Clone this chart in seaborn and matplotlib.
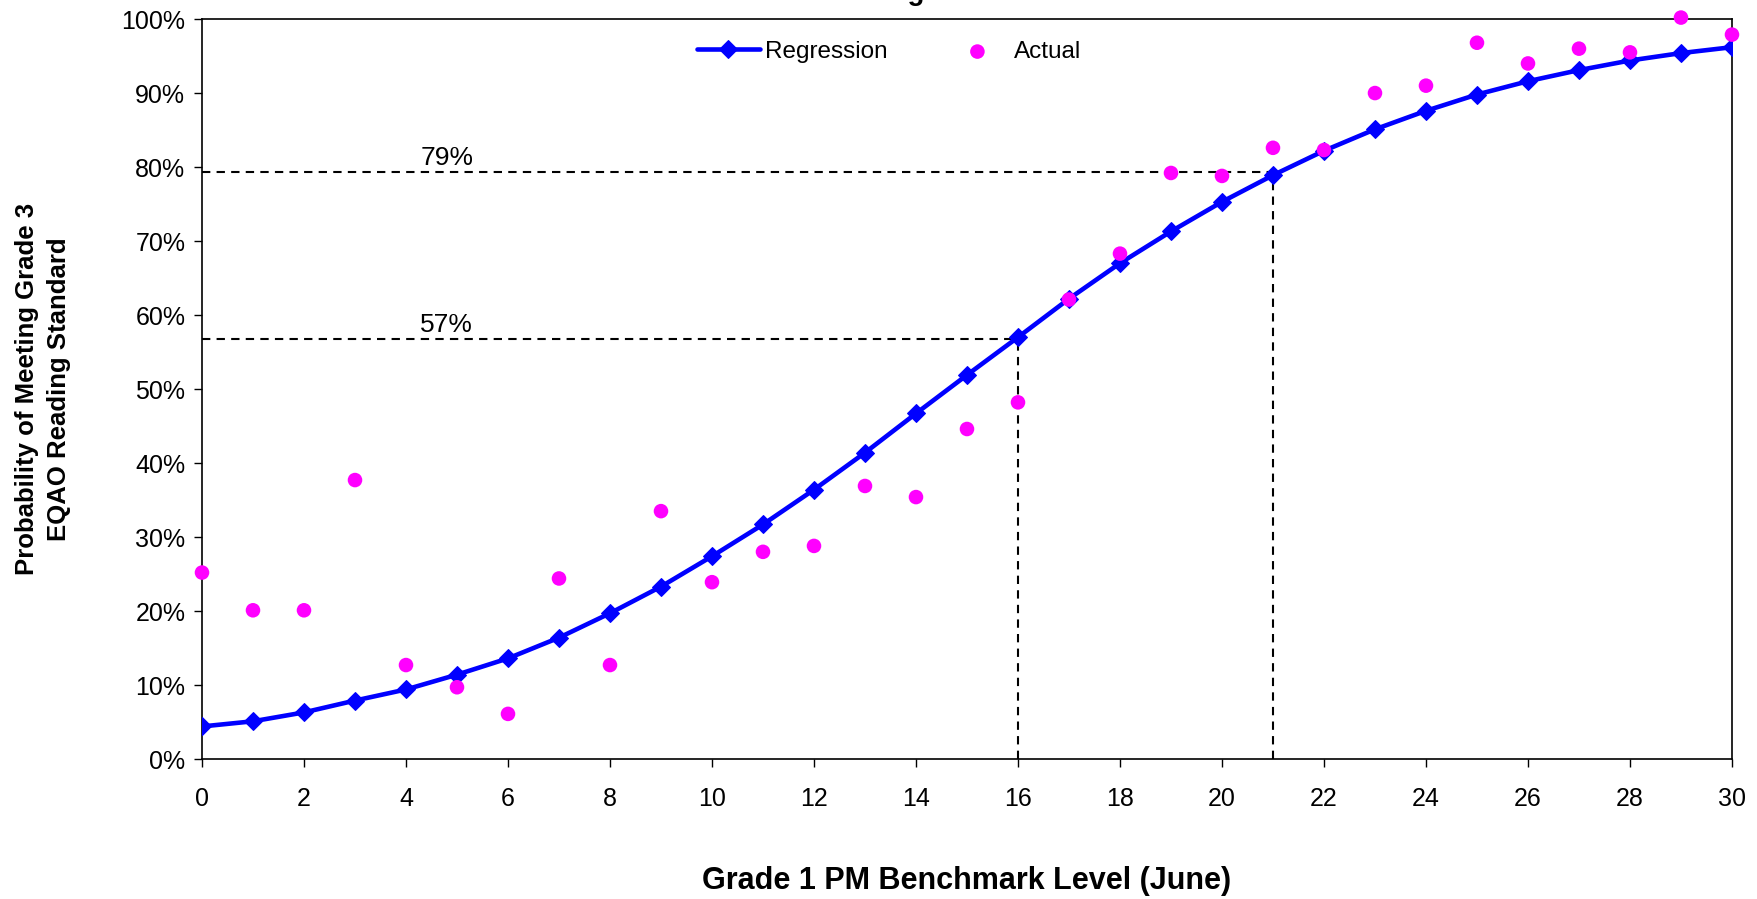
import numpy as np
import pandas as pd
import seaborn as sns
import matplotlib.pyplot as plt

# values
level = list(range(0, 31))
regression = [4.4, 5.1, 6.3, 7.9, 9.4, 11.4, 13.6, 16.4, 19.7, 23.3, 27.4, 31.7, 36.4, 41.4, 46.7,
              51.9, 57.0, 62.2, 67.0, 71.3, 75.3, 78.9, 82.2, 85.1, 87.6, 89.8, 91.6, 93.1, 94.4,
              95.4, 96.2]
actual = [25.2, 20.1, 20.1, 37.7, 12.7, 9.7, 6.1, 24.4, 12.7, 33.5, 23.9, 28.0, 28.8, 36.9, 35.4,
          44.6, 48.2, 62.1, 68.3, 79.2, 78.8, 82.6, 82.3, 90.0, 91.0, 96.8, 94.0, 96.0, 95.5,
          100.2, 97.9]
cut_level = [16, 21]
cut_prob = [57, 79]
cut_line_y = [56.8, 79.3]

df = pd.DataFrame({"level": level, "Regression": regression, "Actual": actual})

sns.set_style("white")
plt.rcParams['font.family'] = ['Liberation Sans', 'DejaVu Sans']
plt.rcParams['text.color'] = 'black'
plt.rcParams['axes.labelcolor'] = 'black'
plt.rcParams['xtick.color'] = 'black'
plt.rcParams['ytick.color'] = 'black'

fig = plt.figure(figsize=(17.58, 8.99), dpi=100)
ax = fig.add_axes([0.1149, 0.1557, 0.8703, 0.8231])

# dashed guides
for lx, ly, lab in zip(cut_level, cut_line_y, cut_prob):
    ax.plot([0, lx], [ly, ly], color="black", ls=(0, (4, 3)), lw=1.5, zorder=1)
    ax.plot([lx, lx], [0, ly], color="black", ls=(0, (4, 3)), lw=1.5, zorder=1)
    ax.text(4.8, ly + 0.3, f"{lab}%", ha="center", va="bottom", fontsize=19)

sns.lineplot(data=df, x="level", y="Regression", color="#0000ff", lw=3.3, marker="D",
             markersize=9, markeredgecolor="#0000ff", label="Regression", ax=ax, zorder=3)
sns.scatterplot(data=df, x="level", y="Actual", color="#ff00ff", s=110, edgecolor="none",
                label="Actual", ax=ax, zorder=4, clip_on=False)

ax.set_xlim(0, 30)
ax.set_ylim(0, 100)
ax.set_xticks(range(0, 31, 2))
ax.set_yticks(range(0, 101, 10))
ax.set_yticklabels([f"{v}%" for v in range(0, 101, 10)])
ax.tick_params(axis="both", direction="out", length=6, width=1,
               labelsize=18, left=True, bottom=True)
ax.tick_params(axis="x", pad=14)
ax.tick_params(axis="y", pad=6)
for sp in ax.spines.values():
    sp.set_color("black")
    sp.set_linewidth(1.2)

ax.set_xlabel("Grade 1 PM Benchmark Level (June)", fontsize=22, fontweight="bold", labelpad=40)
ax.set_ylabel("Probability of Meeting Grade 3\nEQAO Reading Standard", fontsize=18.5,
              fontweight="bold", labelpad=36, linespacing=1.45)

ax.legend(loc="upper center", bbox_to_anchor=(0.449, 1.0), ncol=2, frameon=False,
          fontsize=17.5, columnspacing=2.4, handlelength=2.6, handletextpad=0.2)

fig.text(0.539, 1.0, "Regression", ha="center", va="baseline", fontsize=20, fontweight="bold")

fig.savefig("out.png", dpi=100)
